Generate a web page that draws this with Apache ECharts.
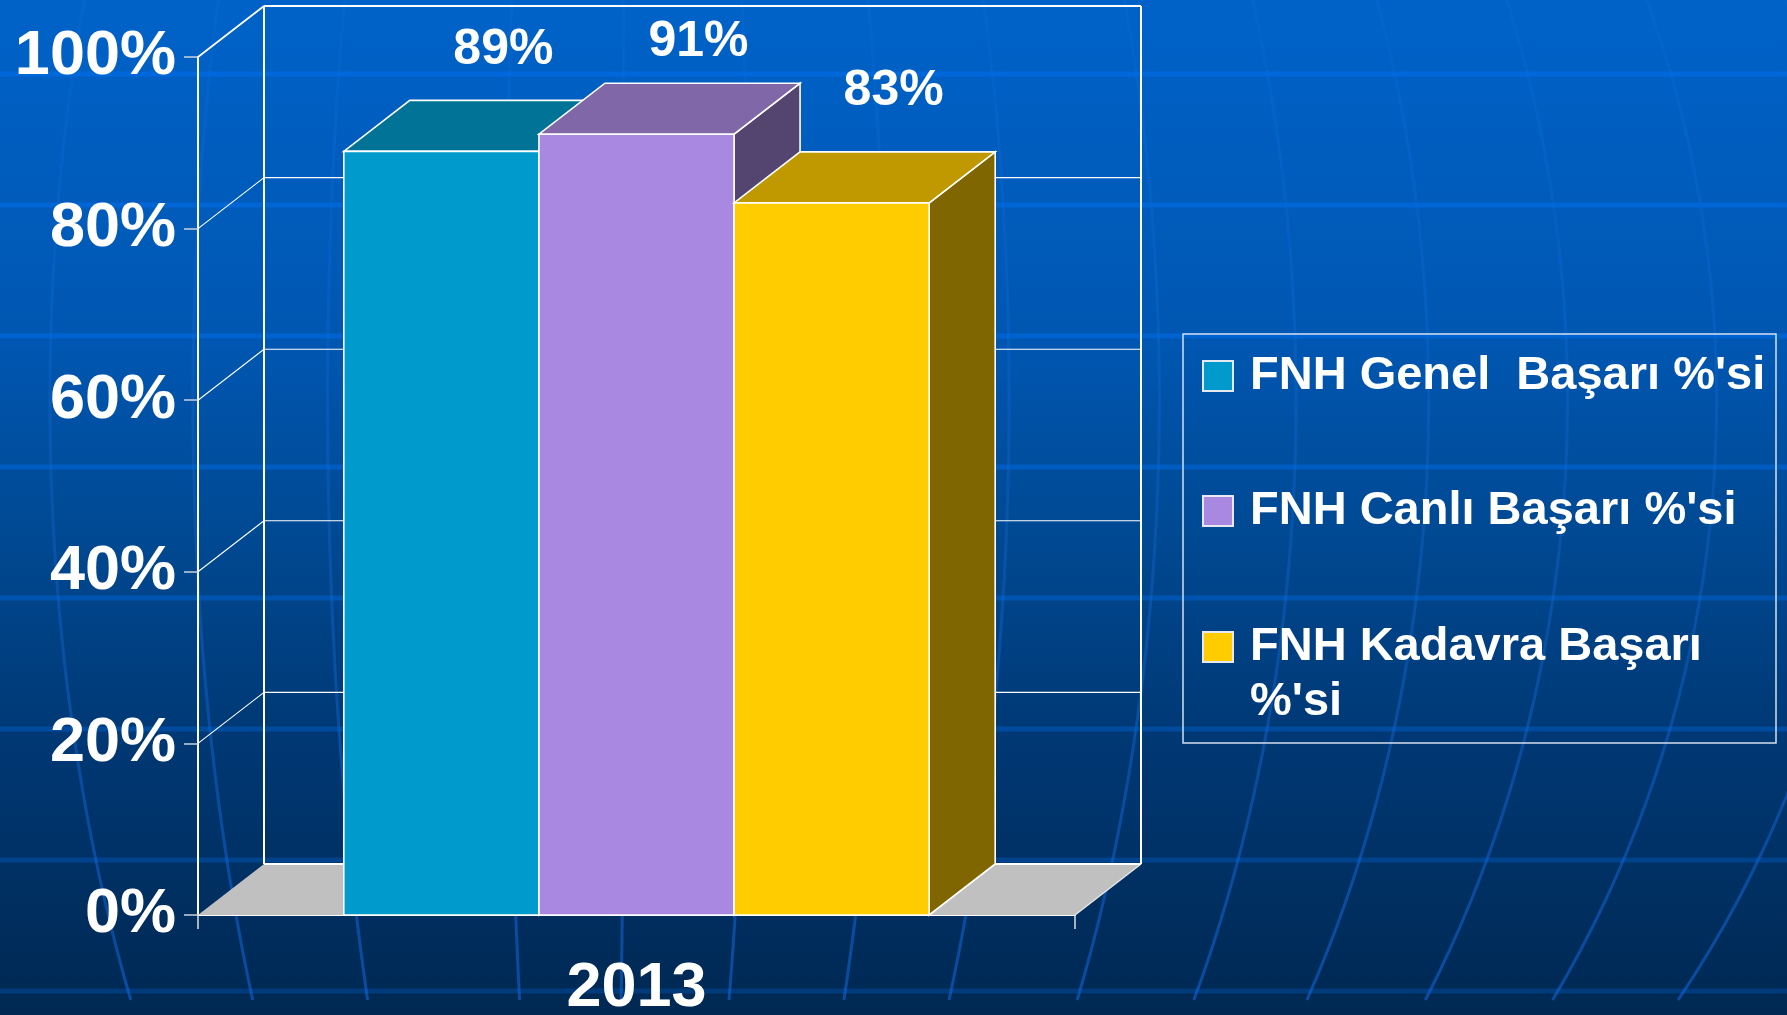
<!DOCTYPE html>
<html>
<head>
<meta charset="utf-8">
<script src="https://cdn.jsdelivr.net/npm/echarts@6/dist/echarts.min.js"></script>
<style>
html,body{margin:0;padding:0;width:100%;height:100%;overflow:hidden;background:#003f82;}
#chart{width:1787px;height:1015px;}
</style>
</head>
<body>
<div id="chart"></div>
<script>
// ---------------- DATA ----------------
const categories = ['2013'];
const seriesNames = ["FNH Genel  Başarı %'si", "FNH Canlı Başarı %'si", "FNH Kadavra Başarı %'si"];
const genelValues = [89];
const canliValues = [91];
const kadavraValues = [83];
const yTicks = [0, 20, 40, 60, 80, 100];
const yTickSuffix = '%';

// ---------------- STYLE ----------------
const FONT = "'Liberation Sans', Arial, Helvetica, sans-serif";
const DEPTH_X = 66, DEPTH_Y = -51;
const BAR_FRAC = 0.2225;
const barStyles = [
  { front: '#009ACD', top: '#007396', side: '#004E68', labelLift: 50 },
  { front: '#A888E0', top: '#8068A8', side: '#544470', labelLift: 41 },
  { front: '#FFCC00', top: '#C09900', side: '#806600', labelLift: 61 }
];
const EDGE = '#ffffff';

function barRenderer(idx) {
  const st = barStyles[idx];
  return function (params, api) {
    const cat = api.value(0);
    const val = api.value(1);
    const base = api.coord([cat, 0]);
    const top = api.coord([cat, val]);
    const band = api.size([1, 0])[0];
    const w = band * BAR_FRAC;
    const x0 = base[0] + (idx - 1.5) * w;
    const x1 = x0 + w;
    const yb = base[1], yt = top[1];
    const dx = DEPTH_X, dy = DEPTH_Y;
    return {
      type: 'group',
      children: [
        { type: 'polygon', shape: { points: [[x1, yb], [x1 + dx, yb + dy], [x1 + dx, yt + dy], [x1, yt]] },
          style: { fill: st.side, stroke: EDGE, lineWidth: 1.6 } },
        { type: 'polygon', shape: { points: [[x0, yt], [x1, yt], [x1 + dx, yt + dy], [x0 + dx, yt + dy]] },
          style: { fill: st.top, stroke: EDGE, lineWidth: 1.6 } },
        { type: 'rect', shape: { x: x0, y: yt, width: w, height: yb - yt },
          style: { fill: st.front, stroke: EDGE, lineWidth: 1.6 } },
        { type: 'text', style: {
            text: val + '%', x: (x0 + x1) / 2 + dx - 4, y: yt + dy - st.labelLift,
            fill: '#ffffff', font: 'bold 50px ' + FONT, align: 'center', verticalAlign: 'middle' } }
      ]
    };
  };
}

function frameRenderer(params, api) {
  const cs = params.coordSys;
  const gx = cs.x, gw = cs.width;
  const dx = DEPTH_X, dy = DEPTH_Y;
  const y0 = api.coord([0, yTicks[0]])[1];
  const yMax = api.coord([0, yTicks[yTicks.length - 1]])[1];
  const children = [];
  children.push({ type: 'polygon', shape: { points: [[gx, y0], [gx + gw, y0], [gx + gw + dx, y0 + dy], [gx + dx, y0 + dy]] },
    style: { fill: '#C0C0C0', stroke: null } });
  children.push({ type: 'line', shape: { x1: gx + gw, y1: y0, x2: gx + gw + dx, y2: y0 + dy },
    style: { stroke: '#e6e6e6', lineWidth: 1.5 } });
  yTicks.forEach(function (v, i) {
    const y = api.coord([0, v])[1];
    const main = (i === 0 || i === yTicks.length - 1);
    children.push({ type: 'line', shape: { x1: gx + dx, y1: y + dy, x2: gx + gw + dx, y2: y + dy },
      style: { stroke: '#ffffff', lineWidth: main ? 2 : 1.1 } });
    if (i > 0) {
      children.push({ type: 'line', shape: { x1: gx, y1: y, x2: gx + dx, y2: y + dy },
        style: { stroke: '#ffffff', lineWidth: main ? 1.8 : 1.1 } });
    }
  });
  children.push({ type: 'line', shape: { x1: gx + dx, y1: yMax + dy, x2: gx + dx, y2: y0 + dy },
    style: { stroke: '#ffffff', lineWidth: 2 } });
  children.push({ type: 'line', shape: { x1: gx + gw + dx, y1: yMax + dy, x2: gx + gw + dx, y2: y0 + dy },
    style: { stroke: '#ffffff', lineWidth: 2 } });
  return { type: 'group', children: children };
}

// ---------------- BACKGROUND DECORATION ----------------
const W = 1787, H = 1015;
const bg = [];
bg.push({ type: 'rect', z: -100, shape: { x: 0, y: 0, width: W, height: H },
  style: { fill: { type: 'linear', x: 0, y: 0, x2: 0, y2: 1, colorStops: [
    { offset: 0, color: '#0062C8' }, { offset: 0.33, color: '#0057B2' },
    { offset: 0.55, color: '#00478F' }, { offset: 0.73, color: '#003874' },
    { offset: 1, color: '#002852' } ] } } });
const meridianX700 = [69, 207, 337, 509, 624, 746, 876, 995, 1140, 1272, 1400, 1534, 1678, 1820];
meridianX700.forEach(function (xm) {
  const cx = 600, cy = 400, R = 1150;
  const A = (xm - cx) / Math.sqrt(1 - Math.pow((700 - cy) / R, 2));
  const pts = [];
  for (let y = 0; y <= H; y += 25) {
    pts.push([cx + A * Math.sqrt(1 - Math.pow((y - cy) / R, 2)), y]);
  }
  bg.push({ type: 'polyline', z: -99, silent: true, shape: { points: pts },
    style: { lineWidth: 3, fill: null, stroke: { type: 'linear', x: 0, y: 0, x2: 0, y2: 1, colorStops: [
      { offset: 0, color: 'rgba(30,120,240,0.12)' }, { offset: 0.5, color: 'rgba(30,120,240,0.22)' },
      { offset: 1, color: 'rgba(20,110,235,0.5)' } ] } } });
});
for (let k = 0; k < 8; k++) {
  const y = 74 + 131 * k;
  const a = 0.6 - 0.05 * k;
  bg.push({ type: 'rect', z: -98, silent: true, shape: { x: 0, y: y - 2.5, width: W, height: 5 },
    style: { fill: 'rgba(0,110,235,' + a + ')' } });
}
bg.push({ type: 'rect', z: 10, silent: true, shape: { x: 1183, y: 334, width: 593, height: 409 },
  style: { fill: null, stroke: 'rgba(235,240,250,0.9)', lineWidth: 1.5 } });

// ---------------- CHART ----------------
const chart = echarts.init(document.getElementById('chart'), null, { renderer: 'canvas' });
const valueSets = [genelValues, canliValues, kadavraValues];

const legendBase = {
  orient: 'vertical', padding: 0, selectedMode: false, icon: 'rect',
  itemWidth: 30, itemHeight: 30, left: 1202,
  itemStyle: { borderColor: '#e8e8f0', borderWidth: 2 }
};
const LEG_FONT = { color: '#ffffff', fontSize: 47, fontWeight: 'bold', fontFamily: FONT, lineHeight: 55 };
function legendText() {
  return Object.assign({}, LEG_FONT, { padding: [0, 0, 0, 12],
    rich: { a: Object.assign({}, LEG_FONT), s: { fontSize: 10, lineHeight: 55 } } });
}

const option = {
  animation: false,
  backgroundColor: 'transparent',
  graphic: { elements: bg },
  grid: { left: 198, top: 57, width: 877, height: 858, containLabel: false, outerBoundsMode: 'none' },
  xAxis: {
    type: 'category', data: categories, boundaryGap: true,
    axisLine: { lineStyle: { color: '#ffffff', width: 2 } },
    axisTick: { show: true, length: 14, lineStyle: { color: '#e0e0e0', width: 1.5 } },
    axisLabel: { color: '#ffffff', fontSize: 63, fontWeight: 'bold', fontFamily: FONT, margin: 42 },
    splitLine: { show: false }
  },
  yAxis: {
    type: 'value', min: yTicks[0], max: yTicks[yTicks.length - 1], interval: yTicks[1] - yTicks[0],
    axisLine: { show: true, lineStyle: { color: '#ffffff', width: 2 } },
    axisTick: { show: true, length: 14, lineStyle: { color: '#c8d2e0', width: 1.5 } },
    axisLabel: { color: '#ffffff', fontSize: 63, fontWeight: 'bold', fontFamily: FONT, margin: 22,
      padding: [12, 0, 0, 0],
      formatter: function (v) { return v + yTickSuffix; } },
    splitLine: { show: false }
  },
  legend: [
    Object.assign({}, legendBase, { top: 348.5, data: [seriesNames[0]], textStyle: legendText() }),
    Object.assign({}, legendBase, { top: 483.5, data: [seriesNames[1]], textStyle: legendText() }),
    Object.assign({}, legendBase, { top: 564.5, data: [seriesNames[2]], textStyle: legendText(),
      formatter: function () { return "{s| }\n{a|FNH Kadavra Başarı}\n{a|%'si}"; } })
  ],
  series: [
    { type: 'custom', name: '_frame', z: 1, silent: true, renderItem: frameRenderer, data: [[0, 0]], encode: { x: 0, y: 1 } }
  ].concat(seriesNames.map(function (name, i) {
    return {
      type: 'custom', name: name, z: 2 + i,
      itemStyle: { color: barStyles[i].front },
      renderItem: barRenderer(i),
      encode: { x: 0, y: 1 },
      data: valueSets[i].map(function (v, c) { return [c, v]; })
    };
  }))
};
chart.setOption(option);
</script>
</body>
</html>
